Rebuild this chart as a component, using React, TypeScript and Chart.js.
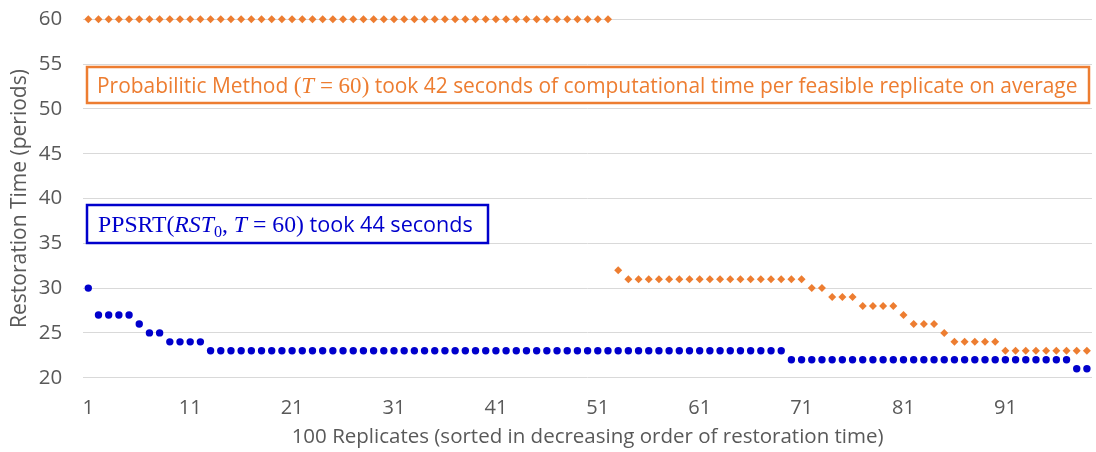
import React, { useEffect, useRef } from 'react';
import { Chart, registerables } from 'chart.js';

Chart.register(...registerables);

// ---- Data ----
const replicateLabels: string[] = [
  '1','2','3','4','5','6','7','8','9','10',
  '11','12','13','14','15','16','17','18','19','20',
  '21','22','23','24','25','26','27','28','29','30',
  '31','32','33','34','35','36','37','38','39','40',
  '41','42','43','44','45','46','47','48','49','50',
  '51','52','53','54','55','56','57','58','59','60',
  '61','62','63','64','65','66','67','68','69','70',
  '71','72','73','74','75','76','77','78','79','80',
  '81','82','83','84','85','86','87','88','89','90',
  '91','92','93','94','95','96','97','98','99',
];

const ppsrtValues: number[] = [
  30, 27, 27, 27, 27, 26, 25, 25, 24, 24,
  24, 24, 23, 23, 23, 23, 23, 23, 23, 23,
  23, 23, 23, 23, 23, 23, 23, 23, 23, 23,
  23, 23, 23, 23, 23, 23, 23, 23, 23, 23,
  23, 23, 23, 23, 23, 23, 23, 23, 23, 23,
  23, 23, 23, 23, 23, 23, 23, 23, 23, 23,
  23, 23, 23, 23, 23, 23, 23, 23, 23, 22,
  22, 22, 22, 22, 22, 22, 22, 22, 22, 22,
  22, 22, 22, 22, 22, 22, 22, 22, 22, 22,
  22, 22, 22, 22, 22, 22, 22, 21, 21,
];

const probabilisticValues: number[] = [
  60, 60, 60, 60, 60, 60, 60, 60, 60, 60,
  60, 60, 60, 60, 60, 60, 60, 60, 60, 60,
  60, 60, 60, 60, 60, 60, 60, 60, 60, 60,
  60, 60, 60, 60, 60, 60, 60, 60, 60, 60,
  60, 60, 60, 60, 60, 60, 60, 60, 60, 60,
  60, 60, 32, 31, 31, 31, 31, 31, 31, 31,
  31, 31, 31, 31, 31, 31, 31, 31, 31, 31,
  31, 30, 30, 29, 29, 29, 28, 28, 28, 28,
  27, 26, 26, 26, 25, 24, 24, 24, 24, 24,
  23, 23, 23, 23, 23, 23, 23, 23, 23,
];

const yTicks: number[] = [20, 25, 30, 35, 40, 45, 50, 55, 60];

const xTitle = '100 Replicates (sorted in decreasing order of restoration time)';
const yTitle = 'Restoration Time (periods)';

const ORANGE = '#ED7D31';
const BLUE = '#0000CC';
const SANS = "'Open Sans', 'Noto Sans', sans-serif";
const SERIF = "'Liberation Serif', 'DejaVu Serif', serif";

type Seg = { text: string; style?: string; serif?: boolean; scale?: number; dy?: number };

function drawFitted(
  ctx: CanvasRenderingContext2D,
  segs: Seg[],
  x: number,
  baseline: number,
  targetWidth: number,
  baseSize: number,
  color: string
) {
  const fontFor = (s: Seg, size: number) =>
    `${s.style || ''} ${size * (s.scale || 1)}px ${s.serif ? SERIF : SANS}`;
  const measure = (size: number) => {
    let w = 0;
    for (const s of segs) {
      ctx.font = fontFor(s, size);
      w += ctx.measureText(s.text).width;
    }
    return w;
  };
  const w0 = measure(baseSize);
  const size = baseSize * (targetWidth / w0);
  let cx = x;
  ctx.fillStyle = color;
  ctx.textBaseline = 'alphabetic';
  ctx.textAlign = 'left';
  for (const s of segs) {
    ctx.font = fontFor(s, size);
    ctx.fillText(s.text, cx, baseline + (s.dy || 0) * size / baseSize);
    cx += ctx.measureText(s.text).width;
  }
}

const annotationPlugin = {
  id: 'boxNotes',
  afterDraw(chart: any) {
    const ctx: CanvasRenderingContext2D = chart.ctx;
    ctx.save();
    // Orange box
    ctx.fillStyle = '#FFFFFF';
    ctx.fillRect(87, 67, 1002, 36);
    ctx.strokeStyle = ORANGE;
    ctx.lineWidth = 2.5;
    ctx.strokeRect(87, 67, 1002, 36);
    drawFitted(
      ctx,
      [
        { text: 'Probabilitic Method ' },
        { text: '(', serif: true, scale: 1.1 },
        { text: 'T', serif: true, style: 'italic', scale: 1.1 },
        { text: ' = 60)', serif: true, scale: 1.1 },
        { text: ' took 42 seconds of computational time per feasible replicate on average' },
      ],
      97,
      93,
      981,
      19,
      ORANGE
    );
    // Blue box
    ctx.fillStyle = '#FFFFFF';
    ctx.fillRect(87, 205, 401, 38);
    ctx.strokeStyle = BLUE;
    ctx.lineWidth = 2.5;
    ctx.strokeRect(87, 205, 401, 38);
    drawFitted(
      ctx,
      [
        { text: 'PPSRT(', serif: true, scale: 1.1 },
        { text: 'RST', serif: true, style: 'italic', scale: 1.1 },
        { text: '0', serif: true, scale: 0.75, dy: 5 },
        { text: ', ', serif: true, scale: 1.1 },
        { text: 'T', serif: true, style: 'italic', scale: 1.1 },
        { text: ' = 60)', serif: true, scale: 1.1 },
        { text: ' took 44 seconds' },
      ],
      98,
      232,
      375,
      20,
      BLUE
    );
    ctx.restore();
  },
};

export default function App() {
  const canvasRef = useRef<HTMLCanvasElement | null>(null);

  useEffect(() => {
    if (!canvasRef.current) return;
    Chart.defaults.font.family = SANS;
    const chart = new Chart(canvasRef.current, {
      type: 'line',
      data: {
        labels: replicateLabels,
        datasets: [
          {
            label: 'Probabilistic Method',
            data: probabilisticValues,
            showLine: false,
            clip: false,
            pointStyle: 'rectRot',
            pointRadius: 4,
            pointBackgroundColor: ORANGE,
            pointBorderColor: ORANGE,
            pointBorderWidth: 0,
            backgroundColor: ORANGE,
            borderColor: ORANGE,
          },
          {
            label: 'PPSRT',
            data: ppsrtValues,
            showLine: false,
            clip: false,
            pointStyle: 'circle',
            pointRadius: 3.7,
            pointBackgroundColor: BLUE,
            pointBorderColor: BLUE,
            pointBorderWidth: 0,
            backgroundColor: BLUE,
            borderColor: BLUE,
          },
        ],
      },
      options: {
        animation: false,
        responsive: true,
        maintainAspectRatio: false,
        layout: { padding: { top: 19.3, right: 0, left: 0, bottom: 0 } },
        plugins: {
          legend: { display: false },
          tooltip: { enabled: false },
        },
        scales: {
          x: {
            type: 'category',
            offset: true,
            grid: { display: false, drawTicks: false },
            border: { display: false },
            ticks: {
              autoSkip: false,
              maxRotation: 0,
              minRotation: 0,
              padding: 19,
              color: '#595959',
              font: { size: 20 },
              callback: (_v: any, i: number) => (i % 10 === 0 ? replicateLabels[i] : ''),
            },
            title: {
              display: true,
              text: xTitle,
              color: '#595959',
              font: { size: 20.5 },
              padding: { top: 0, bottom: 2.5 },
            },
            afterFit: (scale: any) => {
              scale.height = 74.3;
              scale.paddingLeft = 0;
              scale.paddingRight = 0;
            },
          },
          y: {
            min: 20,
            max: 60,
            afterBuildTicks: (scale: any) => {
              scale.ticks = yTicks.map((v) => ({ value: v }));
            },
            grid: { color: '#D9D9D9', lineWidth: 1, drawTicks: false },
            border: { display: false },
            ticks: {
              padding: 21,
              color: '#595959',
              font: { size: 20.5 },
            },
            title: {
              display: true,
              text: yTitle,
              color: '#595959',
              font: { size: 21 },
              padding: { top: 7.5, bottom: 0 },
            },
            afterFit: (scale: any) => {
              scale.width = 83.2;
              scale.paddingTop = 0;
              scale.paddingBottom = 0;
            },
          },
        },
      },
      plugins: [annotationPlugin],
    });
    return () => chart.destroy();
  }, []);

  return (
    <div style={{ position: 'fixed', left: 0, top: 0, width: 1096, height: 452, background: '#FFFFFF' }}>
      <canvas ref={canvasRef} />
    </div>
  );
}
